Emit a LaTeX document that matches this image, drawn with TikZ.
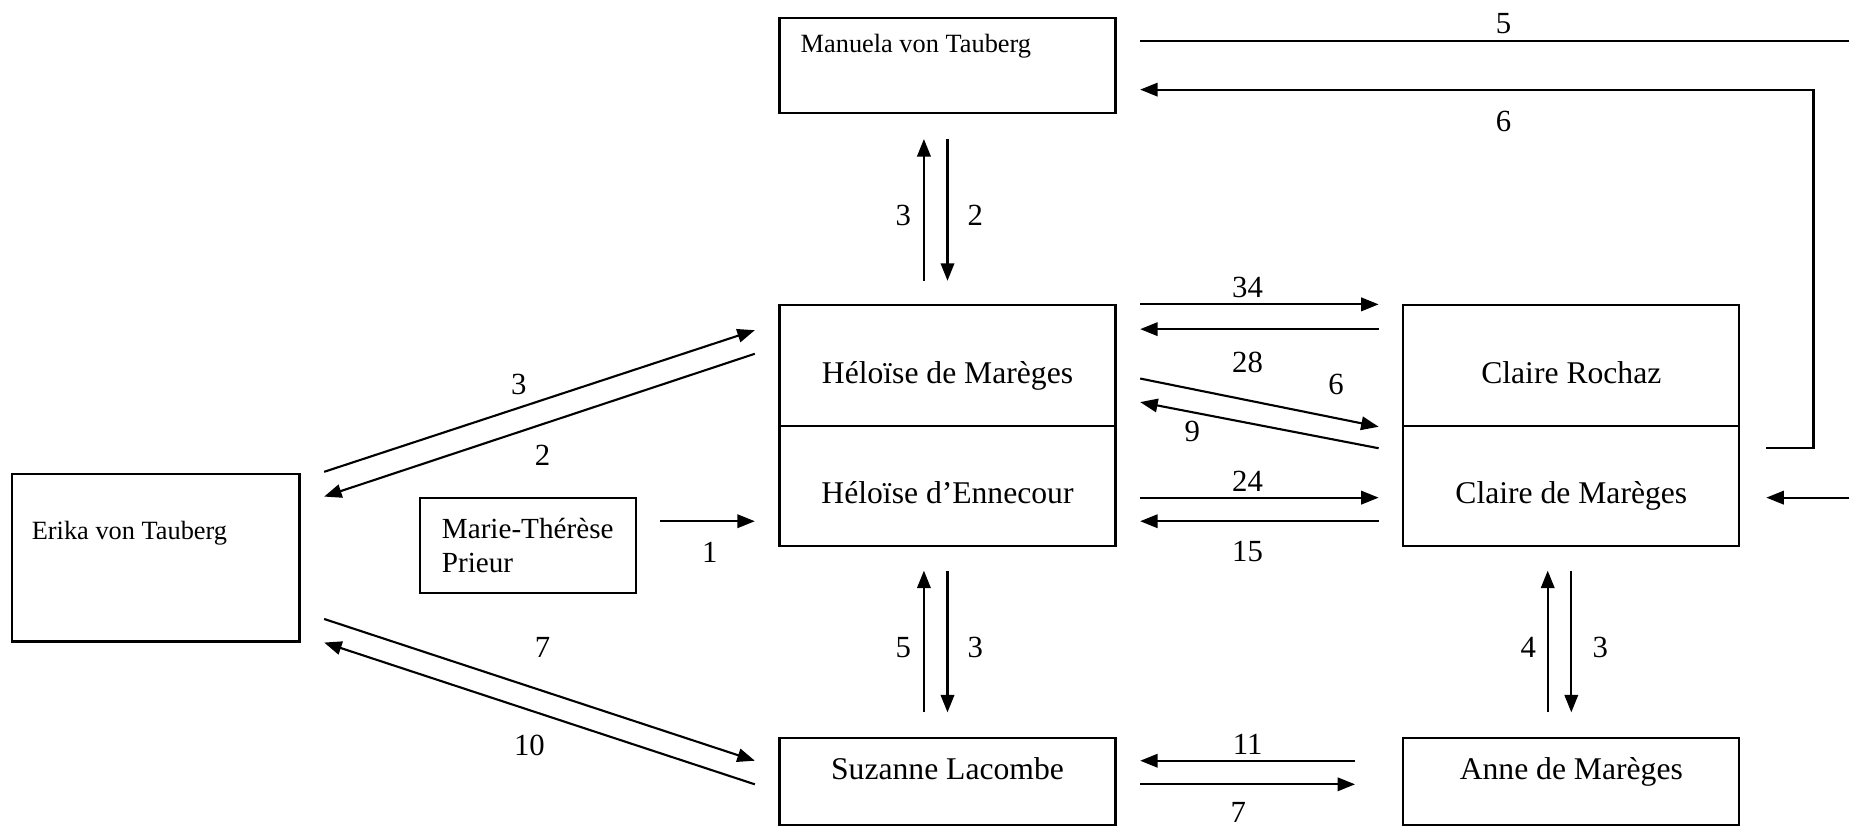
\documentclass[tikz,border=0pt]{standalone}
\usepackage{fontspec}
\setmainfont{Liberation Serif}
\usetikzlibrary{arrows.meta,calc}
\newcommand\ux{0.023585cm}
\begin{document}
\begin{tikzpicture}[x=\ux,y=-\ux, line width=1.2pt,
  box/.style={draw, rectangle, inner sep=0pt, font=\fontsize{18}{22}\selectfont},
  wide/.style={box, minimum width=285*\ux, minimum height=102*\ux, text height=20pt, text depth=0pt},
  low/.style={box, minimum width=285*\ux, minimum height=73.5*\ux, text height=0pt, text depth=2.4pt},
  num/.style={font=\fontsize{17.5}{21}\selectfont, inner sep=0pt},
  small/.style={font=\fontsize{15}{18}\selectfont, inner sep=0pt, anchor=base west},
  arr/.style={-{Triangle[length=0.35cm,width=0.27cm]}},
]
\useasboundingbox (0,0) rectangle (1568,701);

% people
\node[box, minimum width=285*\ux, minimum height=81*\ux] (mv) at (803.5,55.5) {};
\node[small] (mvt) at ($(mv.north west)+(18,30)$) {Manuela von Tauberg};
\node[wide] (hm) at (803.5,310) {Héloïse de Marèges};
\node[wide] (he) at (803.5,412) {Héloïse d’Ennecour};
\node[wide] (cr) at (1332.5,310) {Claire Rochaz};
\node[wide] (cm) at (1332.5,412) {Claire de Marèges};
\node[box, minimum width=244*\ux, minimum height=142*\ux] (et) at (132,473) {};
\node[small] (ett) at ($(et.north west)+(17,56)$) {Erika von Tauberg};
\node[box, minimum width=183*\ux, minimum height=81*\ux, align=left,
      font=\fontsize{16.6}{19.8}\selectfont] (mt) at (447.5,462.5) {Marie-Thérèse\\Prieur};
\node[low] (sl) at (803.5,662.75) {Suzanne Lacombe};
\node[low] (ad) at (1332.5,662.75) {Anne de Marèges};

% free ends at the right edge
\coordinate (e5) at (1568,35);
\coordinate (e7) at (1568,422);

% Manuela <-> Claire
\draw ($(mv.east)+(20,-20.5)$) -- (e5);
\draw[arr] ($(cm.north east)+(22,20)$) -- ++(40,0) |- ($(mv.east)+(20,20.5)$);
\draw[arr] (e7) -- ($(cm.east)+(22,10)$);

% Manuela <-> Heloise
\draw[arr] ($(hm.north)+(-20,-20)$) -- ($(mv.south)+(-20,21)$);
\draw[arr] ($(mv.south)+(0,21)$) -- ($(hm.north)+(0,-20)$);

% Heloise <-> Claire
\draw[arr] ($(hm.north east)+(20,0)$) -- ($(cr.north west)+(-20,0)$);
\draw[arr] ($(cr.north west)+(-20,21)$) -- ($(hm.north east)+(20,21)$);
\draw[arr] ($(hm.east)+(20,11)$) -- ($(cr.south west)+(-20,0)$);
\draw[arr] ($(cm.north west)+(-20,20)$) -- ($(hm.east)+(20,31)$);
\draw[arr] ($(he.east)+(20,10)$) -- ($(cm.west)+(-20,10)$);
\draw[arr] ($(cm.west)+(-20,30)$) -- ($(he.east)+(20,30)$);

% Erika <-> Heloise, Marie-Therese -> Heloise
\draw[arr] ($(et.north east)+(20,-1)$) -- ($(hm.west)+(-20,-30)$);
\draw[arr] ($(hm.west)+(-20,-10)$) -- ($(et.north east)+(20,20)$);
\draw[arr] ($(mt.east)+(20,-20.5)$) -- ($(he.west)+(-20,30)$);

% Erika <-> Suzanne
\draw[arr] ($(et.south east)+(20,-20)$) -- ($(sl.north west)+(-20,20)$);
\draw[arr] ($(sl.north west)+(-20,40)$) -- ($(et.south east)+(20,0)$);

% Heloise <-> Suzanne
\draw[arr] ($(sl.north)+(-20,-21)$) -- ($(he.south)+(-20,20)$);
\draw[arr] ($(he.south)+(0,20)$) -- ($(sl.north)+(0,-21)$);

% Claire <-> Anne
\draw[arr] ($(ad.north)+(-20,-21)$) -- ($(cm.south)+(-20,20)$);
\draw[arr] ($(cm.south)+(0,20)$) -- ($(ad.north)+(0,-21)$);

% Suzanne <-> Anne
\draw[arr] ($(ad.north west)+(-40,20)$) -- ($(sl.north east)+(20,20)$);
\draw[arr] ($(sl.north east)+(20,40)$) -- ($(ad.north west)+(-40,40)$);

% counts
\node[num] (n1) at (1275,20) {5};
\node[num] (n2) at (1275,103) {6};
\node[num] (n3) at (766,183) {3};
\node[num] (n4) at (827,183) {2};
\node[num] (n5) at (1058,244) {34};
\node[num] (n6) at (1058,307) {28};
\node[num] (n7) at (1133,326) {6};
\node[num] (n8) at (1011,366) {9};
\node[num] (n9) at (1058,408) {24};
\node[num] (n10) at (1058,468) {15};
\node[num] (n11) at (440,326) {3};
\node[num] (n12) at (460,386) {2};
\node[num] (n13) at (602,468) {1};
\node[num] (n14) at (460,549) {7};
\node[num] (n15) at (449,632) {10};
\node[num] (n16) at (766,549) {5};
\node[num] (n17) at (827,549) {3};
\node[num] (n18) at (1296,549) {4};
\node[num] (n19) at (1357,549) {3};
\node[num] (n20) at (1058,631) {11};
\node[num] (n21) at (1050,689) {7};
\end{tikzpicture}
\end{document}
